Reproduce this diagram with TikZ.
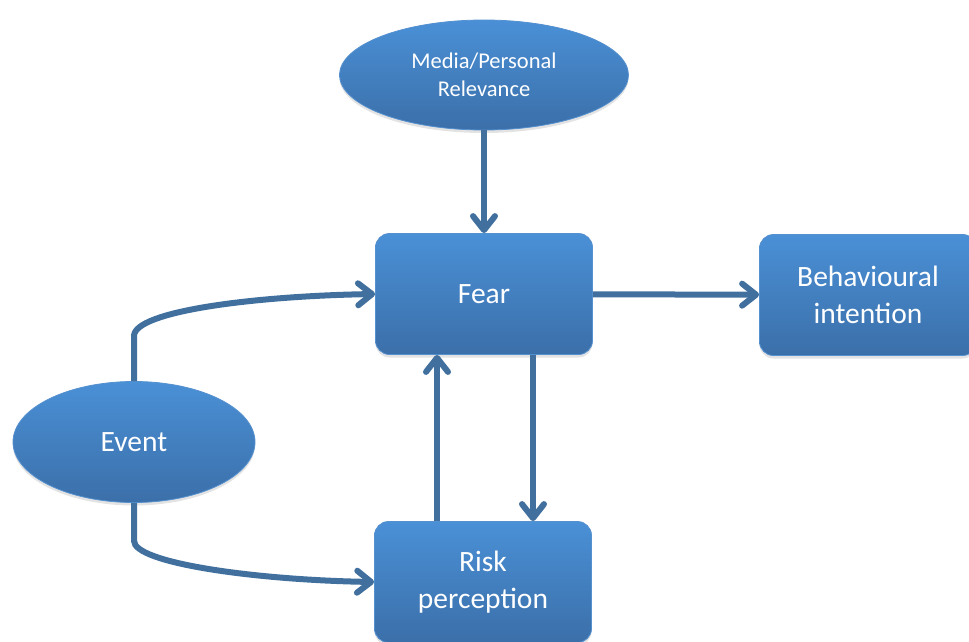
\documentclass[tikz,border=0pt]{standalone}
\usepackage{fontspec}
\setmainfont{Carlito}
\usepackage{tikz}
\usetikzlibrary{arrows.meta,positioning,shapes.geometric,shadows}
\definecolor{boxtop}{HTML}{4A90D6}
\definecolor{boxbottom}{HTML}{3B6FA9}
\definecolor{rimblue}{HTML}{5590CF}
\definecolor{linkblue}{HTML}{41709E}

\begin{document}
\begin{tikzpicture}[
  x=1pt, y=1pt,
  every node/.style={font=\fontsize{29.5}{37}\selectfont, align=center, text=white},
  blueface/.style={top color=boxtop, bottom color=boxbottom, draw=rimblue, line width=0.8pt,
                   drop shadow={shadow xshift=0pt, shadow yshift=-3pt, opacity=0.22}},
  box/.style={blueface, rounded corners=14pt, minimum width=217pt, minimum height=121pt, inner sep=0pt},
  oval/.style={blueface, ellipse, inner sep=0pt},
  arr/.style={-{Straight Barb[length=14pt,width=22pt,round]}, line width=6pt, color=linkblue},
]
  \useasboundingbox (0,0) rectangle (969,-642);

  \node[oval, minimum width=289pt, minimum height=110pt, font=\fontsize{22.5}{28}\selectfont] (media) at (484,-75) {Media/Personal\\Relevance};
  \node[box] (fear) at (484,-294) {Fear};
  \node[box] (intent) at (868,-295) {Behavioural\\intention};
  \node[oval, minimum width=242pt, minimum height=121pt] (event) at (134,-442) {Event};
  \node[box] (risk) at (483,-582) {Risk\\perception};

  \draw[arr] (media) -- (fear);
  \draw[arr] (fear) -- (intent);
  \draw[arr] ([xshift=-46pt]risk.north) -- ([xshift=-46pt]risk.north |- fear.south);
  \draw[arr] ([xshift=49pt]fear.south) -- ([xshift=49pt]fear.south |- risk.north);
  % event feeds both boxes through bent connectors
  \draw[arr] (event.north) -- ++(0,45) .. controls +(0,25) and +(-120,-2) .. (fear.west);
  \draw[arr] (event.south) -- ++(0,-38) .. controls +(0,-22) and +(-120,2) .. (risk.west);
\end{tikzpicture}
\end{document}
